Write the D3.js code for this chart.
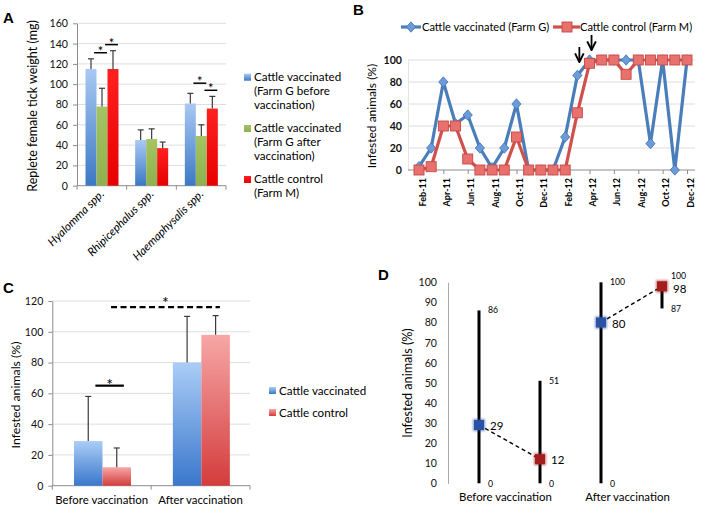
<!DOCTYPE html>
<html><head><meta charset="utf-8">
<script src="https://cdn.jsdelivr.net/npm/d3@7"></script>
<style>body{margin:0;background:#fff} svg{display:block;font-family:Lato,"Open Sans",sans-serif}</style>
</head><body><svg id="c" width="701" height="513"></svg>
<script>
// ---------- Panel A data ----------
const speciesA = ["Hyalomma spp.", "Rhipicephalus spp.", "Haemaphysalis spp."];
const seriesA = ["Cattle vaccinated (Farm G before vaccination)", "Cattle vaccinated (Farm G after vaccination)", "Cattle control (Farm M)"];
const legendLinesA = [["Cattle vaccinated", "(Farm G before", "vaccination)"], ["Cattle vaccinated", "(Farm G after", "vaccination)"], ["Cattle control", "(Farm M)"]];
const beforeA = [115, 45, 81];
const afterA = [78, 46, 49];
const controlA = [115, 37, 76];
const beforeErrA = [10, 10, 10];
const afterErrA = [18, 10, 11];
const controlErrA = [18, 6, 12];
const ticksA = [0, 20, 40, 60, 80, 100, 120, 140, 160];
// significance: [category index, series a, series b, level]
const sigA = [[0, 0, 1, 131], [0, 1, 2, 139], [2, 0, 1, 101], [2, 1, 2, 94]];

// ---------- Panel B data ----------
const monthsB = ["Feb-11","Mar-11","Apr-11","May-11","Jun-11","Jul-11","Aug-11","Sep-11","Oct-11","Nov-11","Dec-11","Jan-12","Feb-12","Mar-12","Apr-12","May-12","Jun-12","Jul-12","Aug-12","Sep-12","Oct-12","Nov-12","Dec-12"];
const monthLabelsB = ["Feb-11","Apr-11","Jun-11","Aug-11","Oct-11","Dec-11","Feb-12","Apr-12","Jun-12","Aug-12","Oct-12","Dec-12"];
const vaccinatedB = [3,20,80,42,50,20,2,20,60,0,0,0,30,86,100,100,100,100,100,24,100,0,100];
const controlB = [0,3,40,40,10,0,0,0,30,0,0,0,0,52,97,100,100,87,100,100,100,100,100];
const seriesB = ["Cattle vaccinated (Farm G)", "Cattle control (Farm M)"];
const arrowsB = ["Mar-12", "Apr-12"];
const ticksB = [0, 20, 40, 60, 80, 100];

// ---------- Panel C data ----------
const periodsC = ["Before vaccination", "After vaccination"];
const seriesC = ["Cattle vaccinated", "Cattle control"];
const vaccinatedC = [29, 80];
const controlC = [12, 98];
const vaccinatedErrC = [29, 30];
const controlErrC = [12.5, 12.5];
const ticksC = [0, 20, 40, 60, 80, 100, 120];

// ---------- Panel D data ----------
const periodsD = ["Before vaccination", "After vaccination"];
const groupsD = ["vaccinated", "control"];
const meanD = [29, 12, 80, 98];
const lowD = [0, 0, 0, 87];
const highD = [86, 51, 100, 100];
const ticksD = [0, 10, 20, 30, 40, 50, 60, 70, 80, 90, 100];

const svg = d3.select("#c");
svg.append("rect").attr("width", 701).attr("height", 513).attr("fill", "#fff");
const defs = svg.append("defs");
function vgrad(id, top, bottom) {
  const g = defs.append("linearGradient").attr("id", id).attr("x1", 0).attr("y1", 0).attr("x2", 0).attr("y2", 1);
  g.append("stop").attr("offset", "0%").attr("stop-color", top);
  g.append("stop").attr("offset", "100%").attr("stop-color", bottom);
}
vgrad("gBlueA", "#a9c9f3", "#3b78c4");
vgrad("gGreenA", "#a4c463", "#8fb04f");
vgrad("gRedA", "#ff2020", "#e80000");
vgrad("gBlueC", "#aacdf7", "#3a77cb");
vgrad("gRedC", "#f7a6a6", "#d43c3c");
const blur = defs.append("filter").attr("id", "soft").attr("x", "-50%").attr("y", "-50%").attr("width", "200%").attr("height", "200%");
blur.append("feGaussianBlur").attr("stdDeviation", 0.8);
defs.append("marker").attr("id", "arr").attr("viewBox", "0 0 10 10").attr("refX", 9).attr("refY", 5)
  .attr("markerWidth", 6).attr("markerHeight", 6).attr("orient", "auto")
  .append("path").attr("d", "M1,1 L9,5 L1,9").attr("fill", "none").attr("stroke", "#000").attr("stroke-width", 1.8);

function panelLabel(t, x, y) {
  svg.append("text").attr("x", x).attr("y", y).attr("font-family", "Liberation Sans, Arial, sans-serif")
    .attr("font-weight", "bold").attr("font-size", 15).text(t);
}
function styleAxis(g, fs, weight) {
  g.select(".domain").attr("stroke", "#8c8c8c");
  g.selectAll(".tick line").attr("stroke", "#8c8c8c");
  g.selectAll(".tick text").attr("font-size", fs).attr("font-family", "Lato, sans-serif").attr("fill", "#111").attr("font-weight", weight || "normal");
}

// ================= Panel A =================
(function () {
  const g = svg.append("g");
  const yA = d3.scaleLinear().domain([0, 160]).range([185.7, 23.3]);
  const xA = d3.scaleBand().domain(speciesA).range([77, 226]);
  const sA = d3.scaleBand().domain(d3.range(3)).range([8.5, 41.5]);
  g.selectAll("line.grid").data(ticksA.slice(1)).join("line")
    .attr("x1", 77).attr("x2", 226).attr("y1", d => yA(d)).attr("y2", d => yA(d)).attr("stroke", "#dedede");
  const ax = g.append("g").attr("transform", "translate(77,0)").call(d3.axisLeft(yA).tickValues(ticksA).tickSize(4).tickSizeOuter(0).tickPadding(5));
  styleAxis(ax, 10.6);
  g.append("line").attr("x1", 77).attr("x2", 226).attr("y1", yA(0)).attr("y2", yA(0)).attr("stroke", "#8c8c8c");
  const edges = speciesA.map(c => xA(c)).concat([xA(speciesA[2]) + xA.bandwidth()]);
  g.selectAll("line.xt").data(edges).join("line").attr("x1", d => d).attr("x2", d => d)
    .attr("y1", yA(0)).attr("y2", yA(0) + 4).attr("stroke", "#8c8c8c");
  const vals = [beforeA, afterA, controlA], errs = [beforeErrA, afterErrA, controlErrA];
  const fills = ["url(#gBlueA)", "url(#gGreenA)", "url(#gRedA)"];
  speciesA.forEach((c, i) => {
    vals.forEach((arr, s) => {
      const x = xA(c) + sA(s), w = sA.bandwidth();
      g.append("rect").attr("x", x).attr("width", w).attr("y", yA(arr[i])).attr("height", yA(0) - yA(arr[i])).attr("fill", fills[s]);
      const cx = x + w / 2, top = yA(arr[i] + errs[s][i]);
      g.append("line").attr("x1", cx).attr("x2", cx).attr("y1", yA(arr[i])).attr("y2", top).attr("stroke", "#3a3a3a").attr("stroke-width", 1.2);
      g.append("line").attr("x1", cx - 3).attr("x2", cx + 3).attr("y1", top).attr("y2", top).attr("stroke", "#3a3a3a").attr("stroke-width", 1.2);
    });
    g.append("text").attr("transform", `translate(${xA(c) + xA.bandwidth() / 2 + 3},${yA(0) + 9}) rotate(-45)`)
      .attr("text-anchor", "end").attr("font-style", "italic").attr("font-size", 11.5).text(c);
  });
  sigA.forEach(([ci, a, b, lvl]) => {
    const base = xA(speciesA[ci]);
    const x1 = base + sA(a) + sA.bandwidth() * 0.78, x2 = base + sA(b) + sA.bandwidth() * 0.95;
    g.append("line").attr("x1", x1).attr("x2", x2).attr("y1", yA(lvl)).attr("y2", yA(lvl)).attr("stroke", "#000").attr("stroke-width", 1.5);
    g.append("text").attr("x", (x1 + x2) / 2).attr("y", yA(lvl) + 3).attr("text-anchor", "middle").attr("font-size", 13).text("*");
  });
  g.append("text").attr("transform", "translate(37,106) rotate(-90)").attr("text-anchor", "middle").attr("font-size", 12.5)
    .text("Replete female tick weight (mg)");
  const legY = [80.7, 132, 183];
  legendLinesA.forEach((lines, s) => {
    g.append("rect").attr("x", 244).attr("y", legY[s] - 7).attr("width", 7).attr("height", 7).attr("fill", fills[s]);
    lines.forEach((t, k) => g.append("text").attr("x", 254).attr("y", legY[s] + k * 14).attr("font-size", 11.6).text(t));
  });
  panelLabel("A", 3, 23);
})();

// ================= Panel B =================
(function () {
  const g = svg.append("g");
  const xB = d3.scalePoint().domain(monthsB).range([419, 687]);
  const yB = d3.scaleLinear().domain([0, 100]).range([170, 60]);
  g.selectAll("line.grid").data(ticksB.slice(1)).join("line")
    .attr("x1", 408).attr("x2", 695).attr("y1", d => yB(d)).attr("y2", d => yB(d)).attr("stroke", "#dedede");
  const ax = g.append("g").attr("transform", "translate(408,0)").call(d3.axisLeft(yB).tickValues(ticksB).tickSize(0).tickPadding(6));
  styleAxis(ax, 10.6, "bold");
  ax.select(".domain").attr("stroke", "#e4e4e4");
  const axx = g.append("g").attr("transform", `translate(0,${yB(0)})`)
    .call(d3.axisBottom(xB).tickValues(monthLabelsB).tickSize(4).tickSizeOuter(0).tickFormat(""));
  styleAxis(axx, 11);
  axx.select(".domain").attr("d", `M408,0H695`);
  monthLabelsB.forEach(m => {
    g.append("text").attr("transform", `translate(${xB(m) + 6.5},${yB(0) + 8}) rotate(-90)`)
      .attr("text-anchor", "end").attr("font-size", 9).attr("font-weight", "bold").text(m);
  });
  const line = d3.line().x((d, i) => xB(monthsB[i])).y(d => yB(d));
  const diamond = "M0,-5.2L4.6,0L0,5.2L-4.6,0Z";
  g.append("path").datum(vaccinatedB).attr("d", line).attr("fill", "none").attr("stroke", "#4a7ebb").attr("stroke-width", 3.2).attr("stroke-linejoin", "round");
  g.selectAll("path.dia").data(vaccinatedB).join("path")
    .attr("transform", (d, i) => `translate(${xB(monthsB[i])},${yB(d)})`).attr("d", diamond)
    .attr("fill", "#6b9bd8").attr("stroke", "#3f72b3").attr("stroke-width", 0.8);
  g.append("path").datum(controlB).attr("d", line).attr("fill", "none").attr("stroke", "#d0504c").attr("stroke-width", 3.2).attr("stroke-linejoin", "round");
  g.selectAll("rect.sq").data(controlB).join("rect")
    .attr("x", (d, i) => xB(monthsB[i]) - 5).attr("y", d => yB(d) - 5).attr("width", 10).attr("height", 10)
    .attr("fill", "#e8716d").attr("stroke", "#c44a46").attr("stroke-width", 0.9);
  arrowsB.forEach((m, k) => {
    const x = xB(m) + 2, tip = k === 0 ? 62 : 50;
    g.append("line").attr("x1", x).attr("x2", x).attr("y1", tip - 15).attr("y2", tip)
      .attr("stroke", "#000").attr("stroke-width", 1.8).attr("marker-end", "url(#arr)");
  });
  // legend
  g.append("line").attr("x1", 401).attr("x2", 421).attr("y1", 27).attr("y2", 27).attr("stroke", "#4a7ebb").attr("stroke-width", 3.2);
  g.append("path").attr("transform", "translate(411,27)").attr("d", diamond).attr("fill", "#6b9bd8").attr("stroke", "#3f72b3").attr("stroke-width", 0.8);
  g.append("text").attr("x", 422).attr("y", 31).attr("font-size", 11.1).text(seriesB[0]);
  g.append("line").attr("x1", 553).attr("x2", 580).attr("y1", 27).attr("y2", 27).attr("stroke", "#d0504c").attr("stroke-width", 3.2);
  g.append("rect").attr("x", 562).attr("y", 22).attr("width", 10).attr("height", 10).attr("fill", "#e8716d").attr("stroke", "#c44a46").attr("stroke-width", 0.9);
  g.append("text").attr("x", 580).attr("y", 31).attr("font-size", 11.1).text(seriesB[1]);
  g.append("text").attr("transform", "translate(376,116) rotate(-90)").attr("text-anchor", "middle").attr("font-size", 12).text("Infested animals (%)");
  panelLabel("B", 353, 15);
})();

// ================= Panel C =================
(function () {
  const g = svg.append("g");
  const yC = d3.scaleLinear().domain([0, 120]).range([485.7, 301]);
  const xC = d3.scaleBand().domain(periodsC).range([52.3, 250]);
  const sC = d3.scaleBand().domain(d3.range(2)).range([21.7, 78.7]);
  g.selectAll("line.grid").data(ticksC.slice(1)).join("line")
    .attr("x1", 52.3).attr("x2", 250).attr("y1", d => yC(d)).attr("y2", d => yC(d)).attr("stroke", "#dedede");
  const ax = g.append("g").attr("transform", "translate(52.3,0)").call(d3.axisLeft(yC).tickValues(ticksC).tickSize(4).tickSizeOuter(0).tickPadding(5));
  styleAxis(ax, 10.6);
  g.append("line").attr("x1", 52.3).attr("x2", 250).attr("y1", yC(0)).attr("y2", yC(0)).attr("stroke", "#8c8c8c");
  const edges = periodsC.map(c => xC(c)).concat([250]);
  g.selectAll("line.xt").data(edges).join("line").attr("x1", d => d).attr("x2", d => d)
    .attr("y1", yC(0)).attr("y2", yC(0) + 4).attr("stroke", "#8c8c8c");
  const vals = [vaccinatedC, controlC], errs = [vaccinatedErrC, controlErrC];
  const fills = ["url(#gBlueC)", "url(#gRedC)"];
  periodsC.forEach((c, i) => {
    vals.forEach((arr, s) => {
      const x = xC(c) + sC(s), w = sC.bandwidth();
      g.append("rect").attr("x", x).attr("width", w).attr("y", yC(arr[i])).attr("height", yC(0) - yC(arr[i])).attr("fill", fills[s]);
      const cx = x + w / 2, top = yC(arr[i] + errs[s][i]);
      g.append("line").attr("x1", cx).attr("x2", cx).attr("y1", yC(arr[i])).attr("y2", top).attr("stroke", "#3a3a3a").attr("stroke-width", 1.2);
      g.append("line").attr("x1", cx - 3).attr("x2", cx + 3).attr("y1", top).attr("y2", top).attr("stroke", "#3a3a3a").attr("stroke-width", 1.2);
    });
    g.append("text").attr("x", xC(c) + xC.bandwidth() / 2).attr("y", 504).attr("text-anchor", "middle").attr("font-size", 11.4).text(c);
  });
  // significance
  const b0 = xC(periodsC[0]);
  const s1x1 = b0 + sC(0) + sC.bandwidth() * 0.75, s1x2 = b0 + sC(1) + sC.bandwidth() * 0.75;
  g.append("line").attr("x1", s1x1).attr("x2", s1x2).attr("y1", yC(65)).attr("y2", yC(65)).attr("stroke", "#000").attr("stroke-width", 2.2);
  g.append("text").attr("x", (s1x1 + s1x2) / 2).attr("y", yC(65) + 4).attr("text-anchor", "middle").attr("font-size", 16).text("*");
  const d1 = b0 + sC(1) + sC.bandwidth() * 0.3, d2 = xC(periodsC[1]) + sC(1) + sC.bandwidth() * 0.65;
  g.append("line").attr("x1", d1).attr("x2", d2).attr("y1", yC(116)).attr("y2", yC(116)).attr("stroke", "#000").attr("stroke-width", 2.2).attr("stroke-dasharray", "6,3.5");
  g.append("text").attr("x", (d1 + d2) / 2).attr("y", yC(116) + 1).attr("text-anchor", "middle").attr("font-size", 16).text("*");
  g.append("text").attr("transform", "translate(20,395) rotate(-90)").attr("text-anchor", "middle").attr("font-size", 12.3).text("Infested animals (%)");
  const legY = [395, 417];
  seriesC.forEach((t, s) => {
    g.append("rect").attr("x", 269).attr("y", legY[s] - 8).attr("width", 7).attr("height", 7).attr("fill", fills[s]);
    g.append("text").attr("x", 279).attr("y", legY[s]).attr("font-size", 11.6).text(t);
  });
  panelLabel("C", 3, 293);
})();

// ================= Panel D =================
(function () {
  const g = svg.append("g");
  const yD = d3.scaleLinear().domain([0, 100]).range([483.3, 282.3]);
  const keys = [];
  periodsD.forEach(p => groupsD.forEach(k => keys.push(p + "|" + k)));
  const xD = d3.scalePoint().domain(keys).range([479, 662]);
  const ax = g.append("g").attr("transform", "translate(448,0)").call(d3.axisLeft(yD).tickValues(ticksD).tickSize(0).tickPadding(11));
  styleAxis(ax, 10.6);
  ax.select(".domain").attr("stroke", "#aaa");
  keys.forEach((k, i) => {
    const x = xD(k);
    g.append("line").attr("x1", x + 1).attr("x2", x + 1).attr("y1", yD(lowD[i])).attr("y2", yD(highD[i])).attr("stroke", "#999").attr("stroke-width", 4).attr("opacity", 0.5).attr("filter", "url(#soft)");
    g.append("line").attr("x1", x).attr("x2", x).attr("y1", yD(lowD[i])).attr("y2", yD(highD[i])).attr("stroke", "#000").attr("stroke-width", 3);
  });
  for (let p = 0; p < 2; p++) {
    const a = 2 * p, b = 2 * p + 1;
    g.append("line").attr("x1", xD(keys[a])).attr("y1", yD(meanD[a])).attr("x2", xD(keys[b])).attr("y2", yD(meanD[b]))
      .attr("stroke", "#000").attr("stroke-width", 1.4).attr("stroke-dasharray", "4,3");
  }
  keys.forEach((k, i) => {
    const x = xD(k), col = i % 2 === 0 ? "#2b52a6" : "#a51d1d";
    g.append("rect").attr("x", x - 6).attr("y", yD(meanD[i]) - 6).attr("width", 12).attr("height", 12).attr("fill", col).attr("opacity", 0.6).attr("filter", "url(#soft)");
    g.append("rect").attr("x", x - 5).attr("y", yD(meanD[i]) - 5).attr("width", 10).attr("height", 10).attr("fill", col);
    const meanOff = (i === 3) ? 6.5 : 5;
    g.append("text").attr("x", x + 11).attr("y", yD(meanD[i]) + meanOff).attr("font-size", 11.5).text(meanD[i]);
    const hiOff = (i === 3) ? -6 : 0;
    g.append("text").attr("x", x + 9).attr("y", yD(highD[i]) + 3 + hiOff).attr("font-size", 8.7).text(highD[i]);
    g.append("text").attr("x", x + 9).attr("y", yD(lowD[i]) + 4).attr("font-size", 8.7).text(lowD[i]);
  });
  periodsD.forEach((p, j) => {
    const cx = (xD(keys[2 * j]) + xD(keys[2 * j + 1])) / 2 - 4;
    g.append("text").attr("x", cx).attr("y", 501).attr("text-anchor", "middle").attr("font-size", 11.4).text(p);
  });
  g.append("text").attr("transform", "translate(412,383) rotate(-90)").attr("text-anchor", "middle").attr("font-size", 12.6).text("Infested animals (%)");
  panelLabel("D", 378, 280);
})();
</script></body></html>
